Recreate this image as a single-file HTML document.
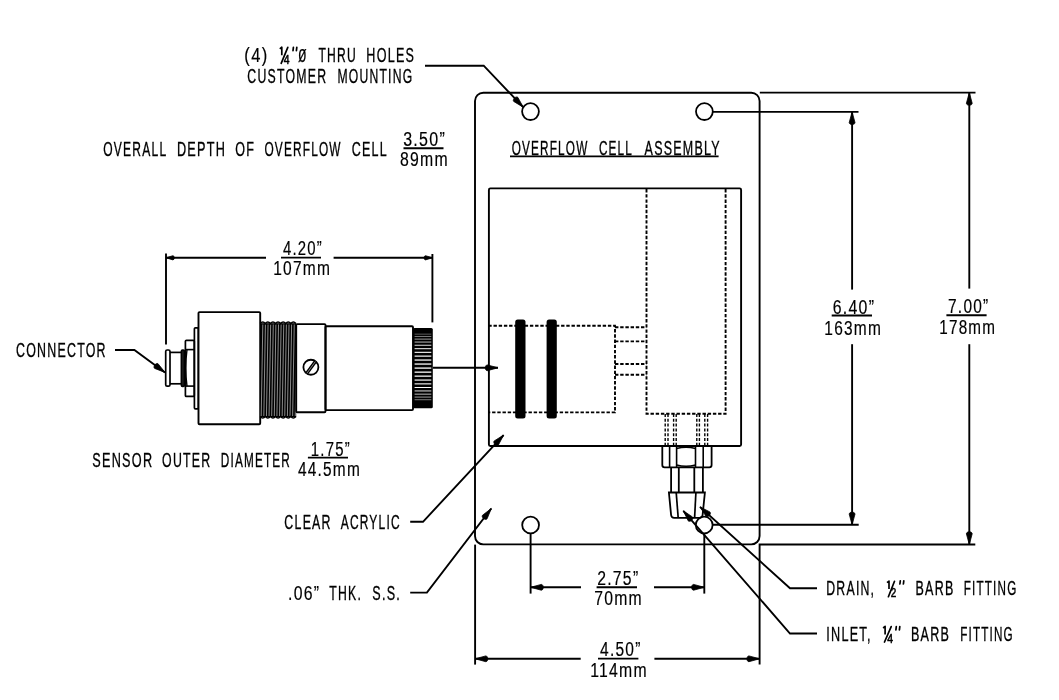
<!DOCTYPE html>
<html><head><meta charset="utf-8"><style>
html,body{margin:0;padding:0;background:#fff;}
svg{display:block;will-change:transform;}
text{font-family:"Liberation Sans",sans-serif;fill:#000;}
</style></head><body>
<svg width="1059" height="700" viewBox="0 0 1059 700">
<rect width="1059" height="700" fill="#fff"/>
<text x="244.35" y="61.90" textLength="24.18" lengthAdjust="spacingAndGlyphs" font-size="19.5" stroke="#000" stroke-width="0.18" letter-spacing="1.560">(4)</text>
<path d="M279.80 48.80 L281.80 47.20 L281.80 55.20" fill="none" stroke="#000" stroke-width="1.7" stroke-linejoin="round"/>
<text x="283.80" y="63.80" textLength="6.59" lengthAdjust="spacingAndGlyphs" font-size="12.5" stroke="#000" stroke-width="0.55" letter-spacing="1.000">4</text>
<path d="M281.20 63.30 L287.80 47.40" stroke="#000" stroke-width="1.7" stroke-linecap="round"/>
<path d="M293.40 47.40 L293.00 50.60 M296.80 47.40 L296.40 50.60" stroke="#000" stroke-width="1.7" stroke-linecap="round"/>
<text x="297.92" y="61.90" textLength="9.98" lengthAdjust="spacingAndGlyphs" font-size="24" stroke="#000" stroke-width="0.25" letter-spacing="2.400">ø</text>
<text x="318.40" y="61.90" textLength="38.44" lengthAdjust="spacingAndGlyphs" font-size="19.5" stroke="#000" stroke-width="0.32" letter-spacing="1.950">THRU</text>
<text x="366.36" y="61.90" textLength="48.84" lengthAdjust="spacingAndGlyphs" font-size="19.5" stroke="#000" stroke-width="0.32" letter-spacing="1.950">HOLES</text>
<text x="247.37" y="83.30" textLength="79.92" lengthAdjust="spacingAndGlyphs" font-size="19.5" stroke="#000" stroke-width="0.32" letter-spacing="1.950">CUSTOMER</text>
<text x="337.38" y="83.30" textLength="75.95" lengthAdjust="spacingAndGlyphs" font-size="19.5" stroke="#000" stroke-width="0.32" letter-spacing="1.950">MOUNTING</text>
<path d="M425.00 65.70 L483.70 65.70 L523.20 107.20" fill="none" stroke="#000" stroke-width="1.9"/>
<path d="M523.20 107.20 L517.93 97.46 C516.13 95.57 511.93 99.57 513.73 101.46 Z" fill="#000" stroke="#000" stroke-width="0.8" stroke-linejoin="round"/>
<text x="103.28" y="156.30" textLength="64.01" lengthAdjust="spacingAndGlyphs" font-size="19.5" stroke="#000" stroke-width="0.32" letter-spacing="1.950">OVERALL</text>
<text x="176.95" y="156.30" textLength="49.30" lengthAdjust="spacingAndGlyphs" font-size="19.5" stroke="#000" stroke-width="0.32" letter-spacing="1.950">DEPTH</text>
<text x="235.36" y="156.30" textLength="19.92" lengthAdjust="spacingAndGlyphs" font-size="19.5" stroke="#000" stroke-width="0.32" letter-spacing="1.950">OF</text>
<text x="264.39" y="156.30" textLength="77.34" lengthAdjust="spacingAndGlyphs" font-size="19.5" stroke="#000" stroke-width="0.32" letter-spacing="1.950">OVERFLOW</text>
<text x="351.76" y="156.30" textLength="36.26" lengthAdjust="spacingAndGlyphs" font-size="19.5" stroke="#000" stroke-width="0.32" letter-spacing="1.950">CELL</text>
<text x="403.18" y="146.00" textLength="42.84" lengthAdjust="spacingAndGlyphs" font-size="19.5" stroke="#000" stroke-width="0.18" letter-spacing="1.560">3.50”</text>
<path d="M403.50 148.20 L443.50 148.20" fill="none" stroke="#000" stroke-width="1.9"/>
<text x="400.00" y="166.20" textLength="48.96" lengthAdjust="spacingAndGlyphs" font-size="19.5" stroke="#000" stroke-width="0.18" letter-spacing="1.560">89mm</text>
<rect x="475" y="92.7" width="284.6" height="451.7" rx="8.3" ry="8.3" fill="none" stroke="#000" stroke-width="1.9"/>
<circle cx="530.5" cy="111.6" r="8.4" fill="none" stroke="#000" stroke-width="1.8"/>
<circle cx="704.4" cy="111.6" r="8.4" fill="none" stroke="#000" stroke-width="1.8"/>
<circle cx="530.6" cy="525" r="8.4" fill="none" stroke="#000" stroke-width="1.8"/>
<circle cx="704.2" cy="525" r="8.4" fill="none" stroke="#000" stroke-width="1.8"/>
<text x="511.70" y="154.60" textLength="76.73" lengthAdjust="spacingAndGlyphs" font-size="19.5" stroke="#000" stroke-width="0.32" letter-spacing="1.950">OVERFLOW</text>
<text x="598.90" y="154.60" textLength="34.17" lengthAdjust="spacingAndGlyphs" font-size="19.5" stroke="#000" stroke-width="0.32" letter-spacing="1.950">CELL</text>
<text x="644.60" y="154.60" textLength="76.26" lengthAdjust="spacingAndGlyphs" font-size="19.5" stroke="#000" stroke-width="0.32" letter-spacing="1.950">ASSEMBLY</text>
<path d="M510.00 156.40 L718.60 156.40" fill="none" stroke="#000" stroke-width="1.9"/>
<rect x="488.9" y="188.4" width="252.2" height="257.6" rx="1.5" fill="none" stroke="#000" stroke-width="1.9"/>
<path d="M488.30 325.80 L615.00 325.80 L615.00 412.40 L488.30 412.40" fill="none" stroke="#000" stroke-width="1.9" stroke-dasharray="3.4 1.8"/>
<path d="M615.00 327.20 L646.50 327.20" fill="none" stroke="#000" stroke-width="1.9" stroke-dasharray="3.4 1.8"/>
<path d="M615.00 341.40 L646.50 341.40" fill="none" stroke="#000" stroke-width="1.9" stroke-dasharray="3.4 1.8"/>
<path d="M615.00 364.00 L646.50 364.00" fill="none" stroke="#000" stroke-width="1.9" stroke-dasharray="3.4 1.8"/>
<path d="M615.00 374.70 L646.50 374.70" fill="none" stroke="#000" stroke-width="1.9" stroke-dasharray="3.4 1.8"/>
<path d="M646.50 189.00 L646.50 413.80 L725.60 413.80 L725.60 189.00" fill="none" stroke="#000" stroke-width="1.9" stroke-dasharray="3.4 1.8"/>
<path d="M665.20 414.00 L665.20 446.00" fill="none" stroke="#000" stroke-width="1.4" stroke-dasharray="3 1.8"/>
<path d="M668.00 414.00 L668.00 446.00" fill="none" stroke="#000" stroke-width="1.4" stroke-dasharray="3 1.8"/>
<path d="M673.60 414.00 L673.60 446.00" fill="none" stroke="#000" stroke-width="1.4" stroke-dasharray="3 1.8"/>
<path d="M676.20 414.00 L676.20 446.00" fill="none" stroke="#000" stroke-width="1.4" stroke-dasharray="3 1.8"/>
<path d="M696.80 414.00 L696.80 446.00" fill="none" stroke="#000" stroke-width="1.4" stroke-dasharray="3 1.8"/>
<path d="M699.40 414.00 L699.40 446.00" fill="none" stroke="#000" stroke-width="1.4" stroke-dasharray="3 1.8"/>
<path d="M704.80 414.00 L704.80 446.00" fill="none" stroke="#000" stroke-width="1.4" stroke-dasharray="3 1.8"/>
<path d="M707.60 414.00 L707.60 446.00" fill="none" stroke="#000" stroke-width="1.4" stroke-dasharray="3 1.8"/>
<rect x="515.2" y="319.4" width="10.3" height="99" rx="2.5" fill="#000"/>
<rect x="546.6" y="319.4" width="10.2" height="99" rx="2.5" fill="#000"/>
<path d="M433.00 367.80 L498.00 367.80" fill="none" stroke="#000" stroke-width="1.9"/>
<path d="M498.00 367.80 L487.31 364.90 C484.70 364.90 484.70 370.70 487.31 370.70 Z" fill="#000" stroke="#000" stroke-width="0.8" stroke-linejoin="round"/>
<path d="M662.3 446.2 V465 Q662.3 467.3 664.6 467.3 H709.3 Q711.6 467.3 711.6 465 V446.2" fill="none" stroke="#000" stroke-width="1.8"/>
<path d="M669.60 446.20 L669.60 467.30" fill="none" stroke="#000" stroke-width="1.6"/>
<path d="M676.60 446.20 L676.60 467.30" fill="none" stroke="#000" stroke-width="1.6"/>
<path d="M695.50 446.20 L695.50 467.30" fill="none" stroke="#000" stroke-width="1.6"/>
<path d="M703.20 446.20 L703.20 467.30" fill="none" stroke="#000" stroke-width="1.6"/>
<path d="M676.6 448.5 Q686 446 695.5 448.5 M676.6 465 Q686 467.5 695.5 465" fill="none" stroke="#000" stroke-width="1.3"/>
<path d="M671.10 467.30 L671.10 492.50" fill="none" stroke="#000" stroke-width="1.8"/>
<path d="M678.80 467.30 L678.80 492.50" fill="none" stroke="#000" stroke-width="1.8"/>
<path d="M694.30 467.30 L694.30 492.50" fill="none" stroke="#000" stroke-width="1.8"/>
<path d="M702.90 467.30 L702.90 492.50" fill="none" stroke="#000" stroke-width="1.8"/>
<path d="M668.9 492.5 H704.9 L702.6 515 Q702.3 517.9 699.5 517.9 H674.2 Q671.4 517.9 671.1 515 Z" fill="none" stroke="#000" stroke-width="1.8"/>
<path d="M676.20 492.50 L678.20 517.90" fill="none" stroke="#000" stroke-width="1.7"/>
<path d="M695.90 492.50 L694.60 517.90" fill="none" stroke="#000" stroke-width="1.7"/>
<path d="M759.80 92.60 L975.50 92.60" fill="none" stroke="#000" stroke-width="1.9"/>
<path d="M713.00 111.90 L858.50 111.90" fill="none" stroke="#000" stroke-width="1.9"/>
<path d="M852.10 111.90 L852.10 289.60" fill="none" stroke="#000" stroke-width="1.9"/>
<path d="M852.10 344.20 L852.10 524.80" fill="none" stroke="#000" stroke-width="1.9"/>
<path d="M852.10 111.90 L849.20 122.59 C849.20 125.20 855.00 125.20 855.00 122.59 Z" fill="#000" stroke="#000" stroke-width="0.8" stroke-linejoin="round"/>
<path d="M852.10 524.80 L855.00 514.11 C855.00 511.50 849.20 511.50 849.20 514.11 Z" fill="#000" stroke="#000" stroke-width="0.8" stroke-linejoin="round"/>
<path d="M713.00 524.80 L858.70 524.80" fill="none" stroke="#000" stroke-width="1.9"/>
<path d="M969.30 92.60 L969.30 288.60" fill="none" stroke="#000" stroke-width="1.9"/>
<path d="M969.30 344.20 L969.30 544.50" fill="none" stroke="#000" stroke-width="1.9"/>
<path d="M969.30 92.60 L966.40 103.29 C966.40 105.90 972.20 105.90 972.20 103.29 Z" fill="#000" stroke="#000" stroke-width="0.8" stroke-linejoin="round"/>
<path d="M969.30 544.50 L972.20 533.81 C972.20 531.20 966.40 531.20 966.40 533.81 Z" fill="#000" stroke="#000" stroke-width="0.8" stroke-linejoin="round"/>
<path d="M975.30 544.50 L759.60 544.50 L759.60 664.60" fill="none" stroke="#000" stroke-width="1.9"/>
<text x="832.79" y="313.60" textLength="42.43" lengthAdjust="spacingAndGlyphs" font-size="19.5" stroke="#000" stroke-width="0.18" letter-spacing="1.560">6.40”</text>
<path d="M831.70 315.50 L872.00 315.50" fill="none" stroke="#000" stroke-width="1.9"/>
<text x="824.31" y="334.80" textLength="57.84" lengthAdjust="spacingAndGlyphs" font-size="19.5" stroke="#000" stroke-width="0.18" letter-spacing="1.560">163mm</text>
<text x="948.01" y="313.20" textLength="41.49" lengthAdjust="spacingAndGlyphs" font-size="19.5" stroke="#000" stroke-width="0.18" letter-spacing="1.560">7.00”</text>
<path d="M946.40 315.20 L986.60 315.20" fill="none" stroke="#000" stroke-width="1.9"/>
<text x="939.22" y="334.40" textLength="57.00" lengthAdjust="spacingAndGlyphs" font-size="19.5" stroke="#000" stroke-width="0.18" letter-spacing="1.560">178mm</text>
<path d="M475.10 544.60 L475.10 664.60" fill="none" stroke="#000" stroke-width="1.9"/>
<path d="M475.10 658.80 L580.70 658.80" fill="none" stroke="#000" stroke-width="1.9"/>
<path d="M654.40 658.80 L759.60 658.80" fill="none" stroke="#000" stroke-width="1.9"/>
<path d="M475.10 658.80 L485.79 661.70 C488.40 661.70 488.40 655.90 485.79 655.90 Z" fill="#000" stroke="#000" stroke-width="0.8" stroke-linejoin="round"/>
<path d="M759.60 658.80 L748.91 655.90 C746.30 655.90 746.30 661.70 748.91 661.70 Z" fill="#000" stroke="#000" stroke-width="0.8" stroke-linejoin="round"/>
<text x="600.00" y="656.20" textLength="41.60" lengthAdjust="spacingAndGlyphs" font-size="19.5" stroke="#000" stroke-width="0.18" letter-spacing="1.560">4.50”</text>
<path d="M598.00 658.60 L638.40 658.60" fill="none" stroke="#000" stroke-width="1.9"/>
<text x="590.19" y="677.00" textLength="57.73" lengthAdjust="spacingAndGlyphs" font-size="19.5" stroke="#000" stroke-width="0.18" letter-spacing="1.560">114mm</text>
<path d="M530.60 533.60 L530.60 593.60" fill="none" stroke="#000" stroke-width="1.9"/>
<path d="M704.30 533.60 L704.30 593.60" fill="none" stroke="#000" stroke-width="1.9"/>
<path d="M530.60 587.30 L581.00 587.30" fill="none" stroke="#000" stroke-width="1.9"/>
<path d="M654.00 587.30 L704.30 587.30" fill="none" stroke="#000" stroke-width="1.9"/>
<path d="M530.60 587.30 L541.29 590.20 C543.90 590.20 543.90 584.40 541.29 584.40 Z" fill="#000" stroke="#000" stroke-width="0.8" stroke-linejoin="round"/>
<path d="M704.30 587.30 L693.61 584.40 C691.00 584.40 691.00 590.20 693.61 590.20 Z" fill="#000" stroke="#000" stroke-width="0.8" stroke-linejoin="round"/>
<text x="597.19" y="585.20" textLength="42.22" lengthAdjust="spacingAndGlyphs" font-size="19.5" stroke="#000" stroke-width="0.18" letter-spacing="1.560">2.75”</text>
<path d="M596.60 587.30 L637.00 587.30" fill="none" stroke="#000" stroke-width="1.9"/>
<text x="594.19" y="605.40" textLength="48.76" lengthAdjust="spacingAndGlyphs" font-size="19.5" stroke="#000" stroke-width="0.18" letter-spacing="1.560">70mm</text>
<path d="M817.00 588.30 L790.00 588.30 L700.00 506.90" fill="none" stroke="#000" stroke-width="1.9"/>
<path d="M700.00 506.90 L705.98 516.22 C707.92 517.97 711.81 513.67 709.87 511.92 Z" fill="#000" stroke="#000" stroke-width="0.8" stroke-linejoin="round"/>
<path d="M817.00 633.50 L790.00 633.50 L683.30 510.80" fill="none" stroke="#000" stroke-width="1.9"/>
<path d="M683.30 510.80 L688.13 520.77 C689.84 522.74 694.22 518.93 692.50 516.96 Z" fill="#000" stroke="#000" stroke-width="0.8" stroke-linejoin="round"/>
<text x="826.27" y="595.40" textLength="48.99" lengthAdjust="spacingAndGlyphs" font-size="19.5" stroke="#000" stroke-width="0.32" letter-spacing="1.950">DRAIN,</text>
<path d="M887.00 582.70 L889.00 581.10 L889.00 589.10" fill="none" stroke="#000" stroke-width="1.7" stroke-linejoin="round"/>
<text x="890.75" y="597.20" textLength="6.31" lengthAdjust="spacingAndGlyphs" font-size="12.5" stroke="#000" stroke-width="0.55" letter-spacing="1.000">2</text>
<path d="M888.40 596.70 L894.50 581.30" stroke="#000" stroke-width="1.7" stroke-linecap="round"/>
<path d="M900.30 580.80 L899.90 584.00 M903.80 580.80 L903.40 584.00" stroke="#000" stroke-width="1.7" stroke-linecap="round"/>
<text x="915.56" y="595.40" textLength="38.96" lengthAdjust="spacingAndGlyphs" font-size="19.5" stroke="#000" stroke-width="0.32" letter-spacing="1.950">BARB</text>
<text x="963.80" y="595.40" textLength="53.59" lengthAdjust="spacingAndGlyphs" font-size="19.5" stroke="#000" stroke-width="0.32" letter-spacing="1.950">FITTING</text>
<text x="826.25" y="640.60" textLength="45.44" lengthAdjust="spacingAndGlyphs" font-size="19.5" stroke="#000" stroke-width="0.32" letter-spacing="1.950">INLET,</text>
<path d="M883.10 628.00 L885.10 626.40 L885.10 634.40" fill="none" stroke="#000" stroke-width="1.7" stroke-linejoin="round"/>
<text x="887.15" y="642.50" textLength="6.65" lengthAdjust="spacingAndGlyphs" font-size="12.5" stroke="#000" stroke-width="0.55" letter-spacing="1.000">4</text>
<path d="M884.50 642.00 L891.20 626.60" stroke="#000" stroke-width="1.7" stroke-linecap="round"/>
<path d="M896.30 626.60 L895.90 629.80 M899.80 626.60 L899.40 629.80" stroke="#000" stroke-width="1.7" stroke-linecap="round"/>
<text x="910.96" y="640.60" textLength="39.17" lengthAdjust="spacingAndGlyphs" font-size="19.5" stroke="#000" stroke-width="0.32" letter-spacing="1.950">BARB</text>
<text x="960.20" y="640.60" textLength="53.59" lengthAdjust="spacingAndGlyphs" font-size="19.5" stroke="#000" stroke-width="0.32" letter-spacing="1.950">FITTING</text>
<text x="15.96" y="357.00" textLength="90.86" lengthAdjust="spacingAndGlyphs" font-size="19.5" stroke="#000" stroke-width="0.32" letter-spacing="1.950">CONNECTOR</text>
<path d="M115.00 350.00 L134.40 350.00 L165.00 372.40" fill="none" stroke="#000" stroke-width="1.9"/>
<path d="M165.00 372.40 L158.09 363.75 C155.98 362.20 152.56 366.88 154.66 368.43 Z" fill="#000" stroke="#000" stroke-width="0.8" stroke-linejoin="round"/>
<text x="92.25" y="466.80" textLength="61.14" lengthAdjust="spacingAndGlyphs" font-size="19.5" stroke="#000" stroke-width="0.32" letter-spacing="1.950">SENSOR</text>
<text x="162.07" y="466.80" textLength="49.33" lengthAdjust="spacingAndGlyphs" font-size="19.5" stroke="#000" stroke-width="0.32" letter-spacing="1.950">OUTER</text>
<text x="220.80" y="466.80" textLength="70.23" lengthAdjust="spacingAndGlyphs" font-size="19.5" stroke="#000" stroke-width="0.32" letter-spacing="1.950">DIAMETER</text>
<text x="310.83" y="455.50" textLength="40.02" lengthAdjust="spacingAndGlyphs" font-size="19.5" stroke="#000" stroke-width="0.18" letter-spacing="1.560">1.75”</text>
<path d="M307.90 457.60 L348.00 457.60" fill="none" stroke="#000" stroke-width="1.9"/>
<text x="297.90" y="476.10" textLength="63.12" lengthAdjust="spacingAndGlyphs" font-size="19.5" stroke="#000" stroke-width="0.18" letter-spacing="1.560">44.5mm</text>
<text x="284.37" y="529.30" textLength="47.40" lengthAdjust="spacingAndGlyphs" font-size="19.5" stroke="#000" stroke-width="0.32" letter-spacing="1.950">CLEAR</text>
<text x="340.70" y="529.30" textLength="60.12" lengthAdjust="spacingAndGlyphs" font-size="19.5" stroke="#000" stroke-width="0.32" letter-spacing="1.950">ACRYLIC</text>
<text x="288.09" y="599.50" textLength="32.31" lengthAdjust="spacingAndGlyphs" font-size="19.5" stroke="#000" stroke-width="0.18" letter-spacing="1.560">.06”</text>
<text x="329.30" y="599.50" textLength="32.72" lengthAdjust="spacingAndGlyphs" font-size="19.5" stroke="#000" stroke-width="0.32" letter-spacing="1.950">THK.</text>
<text x="372.26" y="599.50" textLength="28.75" lengthAdjust="spacingAndGlyphs" font-size="19.5" stroke="#000" stroke-width="0.32" letter-spacing="1.950">S.S.</text>
<path d="M410.20 521.80 L423.00 521.80 L503.60 435.10" fill="none" stroke="#000" stroke-width="1.9"/>
<path d="M503.60 435.10 L494.20 440.95 C492.42 442.87 496.67 446.82 498.45 444.90 Z" fill="#000" stroke="#000" stroke-width="0.8" stroke-linejoin="round"/>
<path d="M410.20 592.60 L426.90 592.60 L491.30 508.50" fill="none" stroke="#000" stroke-width="1.9"/>
<path d="M491.30 508.50 L482.50 515.22 C480.91 517.30 485.52 520.82 487.10 518.75 Z" fill="#000" stroke="#000" stroke-width="0.8" stroke-linejoin="round"/>
<path d="M166.00 253.60 L166.00 344.50" fill="none" stroke="#000" stroke-width="1.9"/>
<path d="M432.40 254.00 L432.40 322.40" fill="none" stroke="#000" stroke-width="1.9"/>
<path d="M166.00 257.80 L266.00 257.80" fill="none" stroke="#000" stroke-width="1.9"/>
<path d="M333.60 257.80 L432.40 257.80" fill="none" stroke="#000" stroke-width="1.9"/>
<path d="M166.00 257.80 L172.91 259.90 C174.80 259.90 174.80 255.70 172.91 255.70 Z" fill="#000" stroke="#000" stroke-width="0.8" stroke-linejoin="round"/>
<path d="M432.40 257.80 L425.49 255.70 C423.60 255.70 423.60 259.90 425.49 259.90 Z" fill="#000" stroke="#000" stroke-width="0.8" stroke-linejoin="round"/>
<text x="283.00" y="255.40" textLength="39.96" lengthAdjust="spacingAndGlyphs" font-size="19.5" stroke="#000" stroke-width="0.18" letter-spacing="1.560">4.20”</text>
<path d="M281.00 257.60 L321.00 257.60" fill="none" stroke="#000" stroke-width="1.9"/>
<text x="273.20" y="275.20" textLength="58.05" lengthAdjust="spacingAndGlyphs" font-size="19.5" stroke="#000" stroke-width="0.18" letter-spacing="1.560">107mm</text>
<rect x="165.7" y="350" width="4.3" height="36.2" rx="1.5" fill="none" stroke="#000" stroke-width="1.7"/>
<path d="M170.00 352.40 L181.40 352.40" fill="none" stroke="#000" stroke-width="1.7"/>
<path d="M170.00 383.80 L181.40 383.80" fill="none" stroke="#000" stroke-width="1.7"/>
<rect x="181.4" y="350" width="3" height="36.4" rx="1.2" fill="#222" stroke="#000" stroke-width="1.7"/>
<rect x="185.4" y="340.3" width="8.9" height="56.1" rx="1" fill="none" stroke="#000" stroke-width="1.7"/>
<path d="M185.40 349.60 L194.30 349.60" fill="none" stroke="#000" stroke-width="1.6"/>
<path d="M185.40 386.10 L194.30 386.10" fill="none" stroke="#000" stroke-width="1.6"/>
<path d="M187 349.6 Q184.5 368 187 386.1" fill="none" stroke="#000" stroke-width="1.4"/>
<rect x="194.4" y="327.8" width="4" height="81" rx="1" fill="none" stroke="#000" stroke-width="1.7"/>
<rect x="198.5" y="312.1" width="61.7" height="112.1" rx="1" fill="#fff" stroke="#000" stroke-width="1.9"/>
<rect x="260.2" y="323.2" width="36" height="93.8" fill="#000"/>
<line x1="262.80" y1="324.5" x2="261.20" y2="416" stroke="#fff" stroke-width="0.55"/>
<line x1="265.42" y1="324.5" x2="263.82" y2="416" stroke="#fff" stroke-width="0.55"/>
<line x1="268.04" y1="324.5" x2="266.44" y2="416" stroke="#fff" stroke-width="0.55"/>
<line x1="270.66" y1="324.5" x2="269.06" y2="416" stroke="#fff" stroke-width="0.55"/>
<line x1="273.28" y1="324.5" x2="271.68" y2="416" stroke="#fff" stroke-width="0.55"/>
<line x1="275.90" y1="324.5" x2="274.30" y2="416" stroke="#fff" stroke-width="0.55"/>
<line x1="278.52" y1="324.5" x2="276.92" y2="416" stroke="#fff" stroke-width="0.55"/>
<line x1="281.14" y1="324.5" x2="279.54" y2="416" stroke="#fff" stroke-width="0.55"/>
<line x1="283.76" y1="324.5" x2="282.16" y2="416" stroke="#fff" stroke-width="0.55"/>
<line x1="286.38" y1="324.5" x2="284.78" y2="416" stroke="#fff" stroke-width="0.55"/>
<line x1="289.00" y1="324.5" x2="287.40" y2="416" stroke="#fff" stroke-width="0.55"/>
<line x1="291.62" y1="324.5" x2="290.02" y2="416" stroke="#fff" stroke-width="0.55"/>
<line x1="294.24" y1="324.5" x2="292.64" y2="416" stroke="#fff" stroke-width="0.55"/>
<line x1="296.86" y1="324.5" x2="295.26" y2="416" stroke="#fff" stroke-width="0.55"/>
<path d="M260.2 323.5 Q262.75 320.6 265.30 323.5 Q267.85 320.6 270.40 323.5 Q272.95 320.6 275.50 323.5 Q278.05 320.6 280.60 323.5 Q283.15 320.6 285.70 323.5 Q288.25 320.6 290.80 323.5 Q293.35 320.6 295.90 323.5" fill="none" stroke="#000" stroke-width="1.6"/>
<path d="M260.2 416.5 Q262.75 419.4 265.30 416.5 Q267.85 419.4 270.40 416.5 Q272.95 419.4 275.50 416.5 Q278.05 419.4 280.60 416.5 Q283.15 419.4 285.70 416.5 Q288.25 419.4 290.80 416.5 Q293.35 419.4 295.90 416.5" fill="none" stroke="#000" stroke-width="1.6"/>
<rect x="296.2" y="324.1" width="29.3" height="88.2" rx="1" fill="none" stroke="#000" stroke-width="1.9"/>
<circle cx="310.9" cy="367.25" r="7.5" fill="none" stroke="#000" stroke-width="1.8"/>
<path d="M306.6 373.4 L315.6 361.2" fill="none" stroke="#000" stroke-width="3.4"/>
<path d="M306.9 373.2 L315.3 361.6" fill="none" stroke="#fff" stroke-width="0.5"/>
<rect x="325.5" y="326.3" width="87.5" height="83.8" rx="1" fill="none" stroke="#000" stroke-width="1.9"/>
<rect x="413" y="328" width="19.8" height="80.2" rx="1.5" fill="#000"/>
<line x1="414.6" y1="334.15" x2="431.3" y2="334.15" stroke="#fff" stroke-width="0.36"/>
<line x1="414.6" y1="336.47" x2="431.3" y2="336.47" stroke="#fff" stroke-width="0.49"/>
<line x1="414.6" y1="339.11" x2="431.3" y2="339.11" stroke="#fff" stroke-width="0.62"/>
<line x1="414.6" y1="342.05" x2="431.3" y2="342.05" stroke="#fff" stroke-width="0.75"/>
<line x1="414.6" y1="345.25" x2="431.3" y2="345.25" stroke="#fff" stroke-width="0.88"/>
<line x1="414.6" y1="348.69" x2="431.3" y2="348.69" stroke="#fff" stroke-width="0.99"/>
<line x1="414.6" y1="352.33" x2="431.3" y2="352.33" stroke="#fff" stroke-width="1.10"/>
<line x1="414.6" y1="356.13" x2="431.3" y2="356.13" stroke="#fff" stroke-width="1.18"/>
<line x1="414.6" y1="360.05" x2="431.3" y2="360.05" stroke="#fff" stroke-width="1.25"/>
<line x1="414.6" y1="364.05" x2="431.3" y2="364.05" stroke="#fff" stroke-width="1.29"/>
<line x1="414.6" y1="368.10" x2="431.3" y2="368.10" stroke="#fff" stroke-width="1.30"/>
<line x1="414.6" y1="372.15" x2="431.3" y2="372.15" stroke="#fff" stroke-width="1.29"/>
<line x1="414.6" y1="376.15" x2="431.3" y2="376.15" stroke="#fff" stroke-width="1.25"/>
<line x1="414.6" y1="380.07" x2="431.3" y2="380.07" stroke="#fff" stroke-width="1.18"/>
<line x1="414.6" y1="383.87" x2="431.3" y2="383.87" stroke="#fff" stroke-width="1.10"/>
<line x1="414.6" y1="387.51" x2="431.3" y2="387.51" stroke="#fff" stroke-width="0.99"/>
<line x1="414.6" y1="390.95" x2="431.3" y2="390.95" stroke="#fff" stroke-width="0.88"/>
<line x1="414.6" y1="394.15" x2="431.3" y2="394.15" stroke="#fff" stroke-width="0.75"/>
<line x1="414.6" y1="397.09" x2="431.3" y2="397.09" stroke="#fff" stroke-width="0.62"/>
<line x1="414.6" y1="399.73" x2="431.3" y2="399.73" stroke="#fff" stroke-width="0.49"/>
</svg></body></html>
